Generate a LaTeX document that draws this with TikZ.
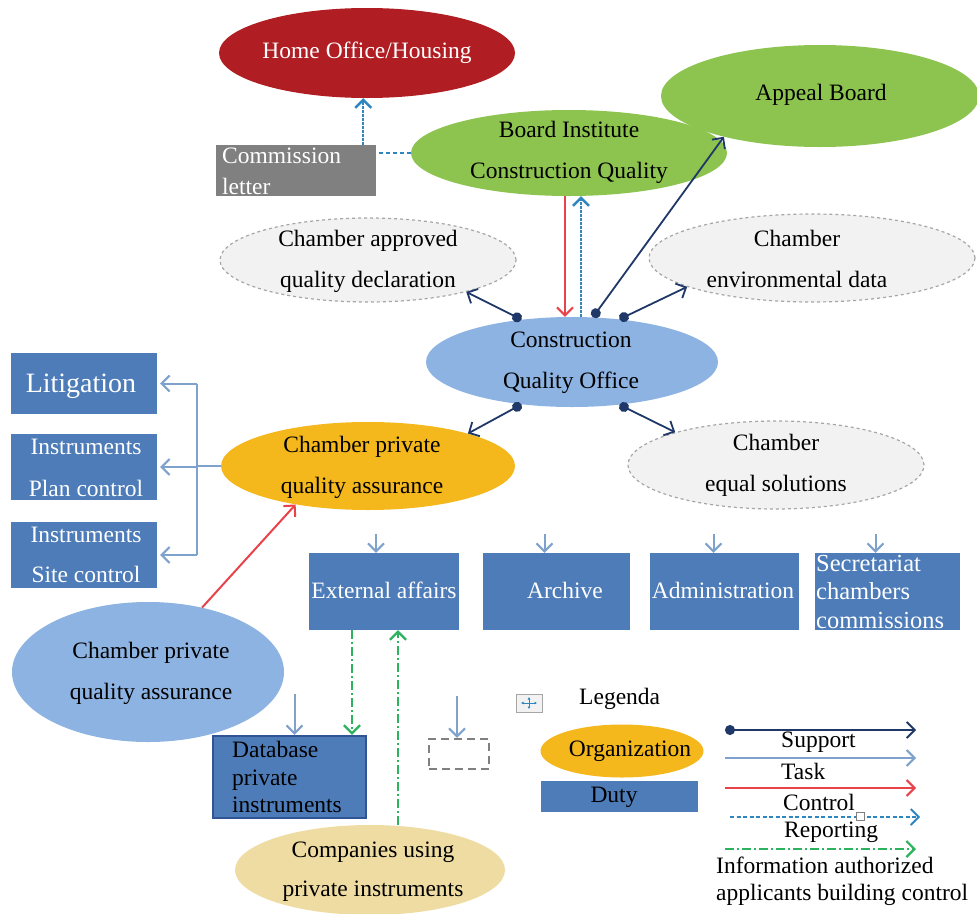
\documentclass[tikz,border=0pt]{standalone}
\usepackage{fontspec}
\setmainfont{Liberation Serif}
\usetikzlibrary{shapes.geometric,arrows.meta,calc}
\definecolor{homered}{HTML}{B01E23}
\definecolor{boardgreen}{HTML}{8DC34F}
\definecolor{cqoblue}{HTML}{8DB3E2}
\definecolor{orgorange}{HTML}{F4B81C}
\definecolor{dutyblue}{HTML}{4D7CB8}
\definecolor{chamgray}{HTML}{F2F2F2}
\definecolor{chamedge}{HTML}{A6A6A6}
\definecolor{comptan}{HTML}{EFDCA2}
\definecolor{supnavy}{HTML}{1F3868}
\definecolor{taskblue}{HTML}{7EA2CC}
\definecolor{ctrlred}{HTML}{E8434B}
\definecolor{repblue}{HTML}{2E86C1}
\definecolor{infogreen}{HTML}{2DB35D}
\definecolor{commgray}{HTML}{808080}
\definecolor{dbedge}{HTML}{2F5597}
\tikzset{
  shapeell/.style={ellipse, inner sep=0pt, draw=none},
  chamber/.style={ellipse, inner sep=0pt, fill=chamgray, draw=chamedge, dashed, line width=1.2pt},
  dutybox/.style={rectangle, inner sep=0pt, fill=dutyblue, draw=none},
  txt/.style={inner sep=0pt, align=center, font=\fontsize{23.5}{41}\selectfont},
  wtxt/.style={txt, text=white},
  ltxt/.style={inner sep=0pt, align=left, anchor=west},
  support/.style={supnavy, line width=1.8pt, {Circle[length=10pt,width=10pt]}-{Straight Barb[length=8pt,width=16pt]}},
  task/.style={taskblue, line width=2pt, -{Straight Barb[length=8pt,width=16pt]}},
  taskline/.style={taskblue, line width=2pt},
  control/.style={ctrlred, line width=2pt, -{Straight Barb[length=8pt,width=16pt]}},
  report/.style={repblue, line width=2.4pt, dash pattern=on 2.5pt off 1.5pt, -{Straight Barb[length=8pt,width=16pt]}},
  reportline/.style={repblue, line width=2pt, dash pattern=on 4pt off 3pt},
  info/.style={infogreen, line width=2.2pt, dash pattern=on 9pt off 3pt on 2pt off 3pt, -{Straight Barb[length=8pt,width=16pt]}}
}
\begin{document}
\begin{tikzpicture}[x=1pt,y=-1pt]
\useasboundingbox (0,0) rectangle (977,913);
\fill[white] (0,0) rectangle (977,913);

% ellipses
\node[shapeell, fill=homered, minimum width=296pt, minimum height=90pt] (home) at (367,53) {};
\node[shapeell, fill=boardgreen, minimum width=316pt, minimum height=86pt] (board) at (569,153) {};
\node[shapeell, fill=boardgreen, minimum width=318pt, minimum height=102pt] (appeal) at (820,96) {};
\node[chamber, minimum width=296pt, minimum height=84pt] (appr) at (368,260) {};
\node[chamber, minimum width=326pt, minimum height=88pt] (env) at (812,258) {};
\node[shapeell, fill=cqoblue, minimum width=292pt, minimum height=90pt] (cqo) at (572,362) {};
\node[shapeell, fill=orgorange, minimum width=294pt, minimum height=88pt] (pqa) at (368,466) {};
\node[chamber, minimum width=296pt, minimum height=88pt] (equal) at (776,465) {};
\node[shapeell, fill=cqoblue, minimum width=272pt, minimum height=140pt] (pqa2) at (148,672) {};
\node[shapeell, fill=comptan, minimum width=270pt, minimum height=90pt] (comp) at (370,870) {};
\node[shapeell, fill=orgorange, minimum width=163pt, minimum height=53pt] (orgleg) at (622,751) {};

% rectangles
\node[rectangle, inner sep=0pt, fill=commgray, minimum width=160pt, minimum height=51pt] (comm) at (296,170.5) {};
\node[dutybox, minimum width=146pt, minimum height=61pt] (lit) at (84,383.5) {};
\node[dutybox, minimum width=146pt, minimum height=66pt] (plan) at (84,467) {};
\node[dutybox, minimum width=146pt, minimum height=66pt] (site) at (84,555) {};
\node[dutybox, minimum width=150pt, minimum height=77pt] (ext) at (384,591.5) {};
\node[dutybox, minimum width=147pt, minimum height=77pt] (arch) at (556.5,591.5) {};
\node[dutybox, minimum width=149pt, minimum height=77pt] (admin) at (724.5,591.5) {};
\node[dutybox, minimum width=145pt, minimum height=77pt] (secr) at (887.5,591.5) {};
\node[dutybox, draw=dbedge, line width=2.5pt, minimum width=153pt, minimum height=82pt] (db) at (289.5,777) {};
\node[rectangle, inner sep=0pt, draw=commgray, line width=2.5pt, dash pattern=on 8pt off 5pt, minimum width=60pt, minimum height=30pt] (dbox) at (459,754) {};
\node[dutybox, minimum width=157pt, minimum height=31pt] (duty) at (619.5,796.5) {};

% texts
\node[wtxt] (homet) at (367,53) {Home Office/Housing};
\node[txt] (boardt) at (569,152) {Board Institute\\Construction Quality};
\node[txt] (appealt) at (821,95) {Appeal Board};
\node[txt] (apprt) at (368,261) {Chamber approved\\quality declaration};
\node[txt] (envt) at (797,259) {Chamber\\environmental data};
\node[txt] (cqot) at (571,363) {Construction\\Quality Office};
\node[txt] (pqat) at (362,467) {Chamber private\\quality assurance};
\node[txt] (equalt) at (776,465) {Chamber\\equal solutions};
\node[txt] (pqa2t) at (151,673) {Chamber private\\quality assurance};
\node[txt, font=\fontsize{23.5}{39}\selectfont] (compt) at (373,872) {Companies using\\private instruments};
\node[txt] (orgt) at (630,751) {Organization};
\node[txt] (dutyt) at (614,797) {Duty};
\node[wtxt, font=\fontsize{28}{34}\selectfont] (litt) at (81,386) {Litigation};
\node[wtxt, font=\fontsize{23.5}{42}\selectfont] (plant) at (86,468) {Instruments\\Plan control};
\node[wtxt, font=\fontsize{23.5}{40}\selectfont] (sitet) at (86,555) {Instruments\\Site control};
\node[wtxt] (extt) at (384,590) {External affairs};
\node[wtxt] (archt) at (565,590) {Archive};
\node[wtxt] (admint) at (723,590) {Administration};
\node[ltxt, text=white, font=\fontsize{24.5}{28.5}\selectfont] (secrt) at (816,591.5) {Secretariat\\chambers\\commissions};
\node[ltxt, font=\fontsize{23.5}{27.5}\selectfont] (dbt) at (232,777) {Database\\private\\instruments};
\node[ltxt, text=white, font=\fontsize{23.5}{31}\selectfont] (commt) at (222,171) {Commission\\letter};

% connectors: top
\draw[report] ([xshift=-13pt]comm.north east) -- ([xshift=-13pt]comm.north east |- home.south);
\draw[reportline] (board.west) -- (board.west -| comm.east);
\draw[control] ([xshift=-4pt]board.south) -- ([xshift=-4pt]board.south |- cqo.north);
\draw[report] ([xshift=9pt]cqo.north) -- ([xshift=9pt]cqo.north |- board.south);
\draw[support] (cqo.65) -- (appeal.203);
\draw[support] (cqo.140) -- (appr.342);
\draw[support] (cqo.42) -- (env.193);
\draw[support] (cqo.220) -- (pqa.18);
\draw[support] (cqo.318) -- (equal.162);

% task bus to left boxes
\coordinate (bus) at (197,466);
\draw[taskline] (pqa.west) -- (bus);
\draw[taskline] (bus |- lit.east) -- (bus |- site.east);
\draw[task] (bus |- lit.east) -- ([xshift=3pt]lit.east);
\draw[task] (bus |- plan.east) -- ([xshift=3pt]plan.east);
\draw[task] (bus |- site.east) -- ([xshift=3pt]site.east);

% short task arrows
\draw[task] ([xshift=-8pt,yshift=19pt]ext.north) -- ([xshift=-8pt]ext.north);
\draw[task] ([xshift=-12pt,yshift=19pt]arch.north) -- ([xshift=-12pt]arch.north);
\draw[task] ([xshift=-11pt,yshift=19pt]admin.north) -- ([xshift=-11pt]admin.north);
\draw[task] ([xshift=-12pt,yshift=19pt]secr.north) -- ([xshift=-12pt]secr.north);
\draw[task] ([xshift=5pt,yshift=41pt]db.north) -- ([xshift=5pt]db.north);
\draw[task] ([xshift=-2pt,yshift=42pt]dbox.north) -- ([xshift=-2pt]dbox.north);

% control from lower ellipse
\draw[control] (pqa2.50) -- (pqa.208);

% info green
\draw[info] ([xshift=-32pt]ext.south) -- ([xshift=-32pt]ext.south |- db.north);
\draw[info] ([xshift=14pt]ext.south |- comp.north) -- ([xshift=14pt]ext.south);

% legend
\node[rectangle, inner sep=0pt, draw=chamedge, fill=chamgray, line width=0.8pt, minimum width=26pt, minimum height=18pt] (icon) at (529,703) {};
\draw[repblue, line width=0.9pt, {Latex[length=2.5pt,width=3pt]}-{Latex[length=2.5pt,width=3pt]}] ([xshift=-8pt]icon.center) -- ([xshift=8pt]icon.center);
\draw[repblue, line width=0.9pt, {Latex[length=2.5pt,width=3pt]}-{Latex[length=2.5pt,width=3pt]}] ([yshift=-6pt]icon.center) -- ([yshift=6pt]icon.center);
\node[ltxt, font=\fontsize{23.5}{28}\selectfont] (legt) at (579,699) {Legenda};

\coordinate (s1) at (725,730); \coordinate (s2) at (916,730);
\coordinate (t1) at (725,758); \coordinate (t2) at (916,758);
\coordinate (c1) at (725,788); \coordinate (c2) at (916,788);
\coordinate (r1) at (730,817); \coordinate (r2) at (920,817);
\coordinate (i1) at (725,849); \coordinate (i2) at (916,849);
\draw[support] (s1) -- (s2);
\draw[task] (t1) -- (t2);
\draw[control] (c1) -- (c2);
\draw[repblue, line width=1.8pt, dash pattern=on 4pt off 2.5pt, -{Straight Barb[length=8pt,width=16pt]}] (r1) -- (r2);
\node[rectangle, inner sep=0pt, draw=gray, fill=white, line width=0.8pt, minimum size=8pt] (repsq) at (860,816) {};
\draw[info] (i1) -- (i2);
\node[ltxt, font=\fontsize{23.5}{28}\selectfont] (supt) at (781,742) {Support};
\node[ltxt, font=\fontsize{23.5}{28}\selectfont] (taskt) at (781,771) {Task};
\node[ltxt, font=\fontsize{23.5}{28}\selectfont] (ctrlt) at (783,802) {Control};
\node[ltxt, font=\fontsize{23.5}{28}\selectfont] (rept) at (784,832) {Reporting};
\node[ltxt, font=\fontsize{23.5}{27.5}\selectfont] (infot) at (716,881) {Information authorized\\applicants building control};
\end{tikzpicture}
\end{document}
